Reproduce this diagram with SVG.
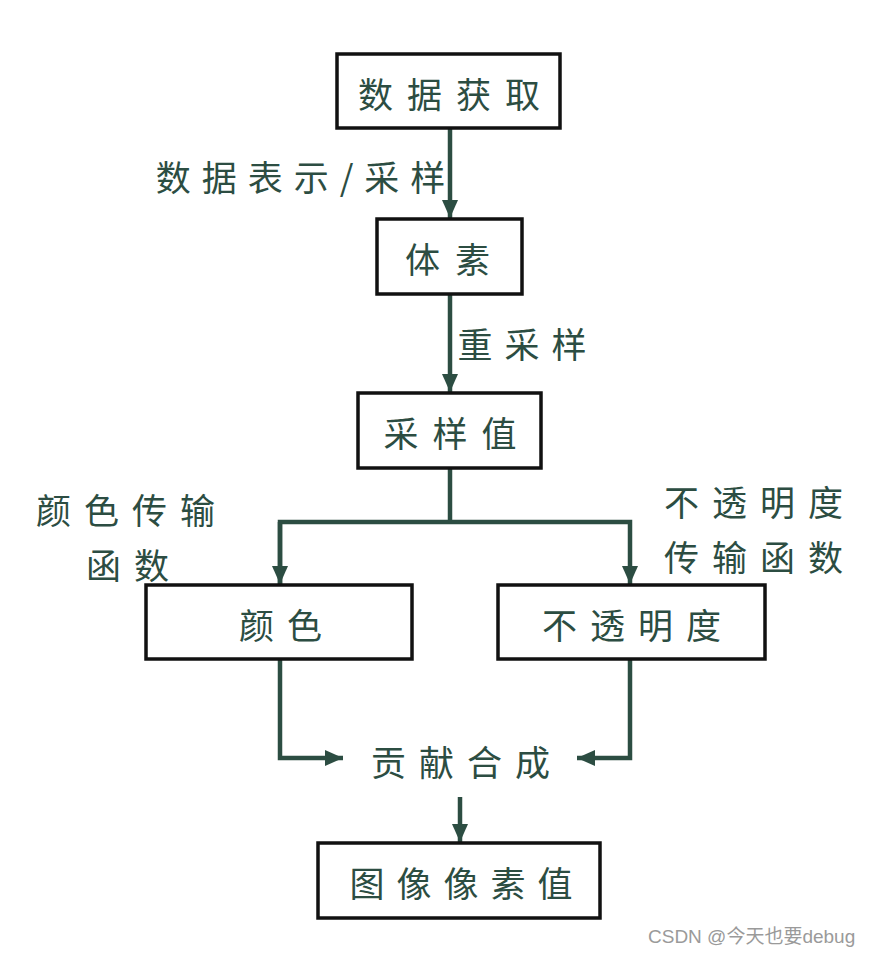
<svg xmlns="http://www.w3.org/2000/svg" width="869" height="956" viewBox="0 0 869 956">
<style>
.box{fill:#fff;stroke:#111;stroke-width:3.5}
.t{font-family:"Noto Sans CJK SC","Noto Sans",sans-serif;font-size:35px;fill:#2c4d42;letter-spacing:13px;text-anchor:middle;dominant-baseline:central}
.c{fill:none;stroke:#2c4d42;stroke-width:4.5}
.wm{font-family:"Liberation Sans","Noto Sans CJK SC",sans-serif;font-size:19px;fill:#9a9a9a}
</style>
<defs>
<marker id="ah" markerUnits="userSpaceOnUse" markerWidth="20" markerHeight="20" viewBox="0 0 20 20" refX="18" refY="10" orient="auto">
<path d="M0,2 L18,10 L0,18 Z" fill="#2c4d42"/>
</marker>
</defs>
<rect width="869" height="956" fill="#fff"/>
<g id="connectors">
<line class="c" x1="450" y1="128" x2="450" y2="218" marker-end="url(#ah)"/>
<line class="c" x1="450" y1="294" x2="450" y2="392" marker-end="url(#ah)"/>
<polyline class="c" points="450,468 450,522"/>
<polyline class="c" points="280,584 280,522 630,522 630,584" marker-end="url(#ah)"/>
<line class="c" x1="280" y1="522" x2="280" y2="584" marker-end="url(#ah)"/>
<polyline class="c" points="280,659 280,758 343,758" marker-end="url(#ah)"/>
<polyline class="c" points="630,659 630,758 577,758" marker-end="url(#ah)"/>
<line class="c" x1="460" y1="797" x2="460" y2="842" marker-end="url(#ah)"/>
</g>
<g id="n1"><rect class="box" x="337" y="54" width="223" height="74"/><text class="t" x="456" y="92" style="letter-spacing:14px">数据获取</text></g>
<g id="n2"><rect class="box" x="377" y="219" width="145" height="75"/><text class="t" x="455" y="257" style="letter-spacing:15px">体素</text></g>
<g id="n3"><rect class="box" x="358" y="393" width="183" height="75"/><text class="t" x="457" y="431" style="letter-spacing:14px">采样值</text></g>
<g id="n4"><rect class="box" x="146" y="585" width="266" height="74"/><text class="t" x="287" y="623">颜色</text></g>
<g id="n5"><rect class="box" x="498" y="585" width="267" height="74"/><text class="t" x="638" y="623">不透明度</text></g>
<g id="n6"><text class="t" x="467" y="760">贡献合成</text></g>
<g id="n7"><rect class="box" x="318" y="843" width="282" height="75"/><text class="t" x="467" y="881" style="letter-spacing:12px">图像像素值</text></g>
<g id="labels">
<text class="t" x="306" y="175" style="letter-spacing:11px">数据表示/采样</text>
<text class="t" x="528" y="342" style="letter-spacing:12px">重采样</text>
<text class="t" x="132" y="508">颜色传输</text>
<text class="t" x="134" y="563">函数</text>
<text class="t" x="760" y="500">不透明度</text>
<text class="t" x="760" y="555">传输函数</text>
</g>
<text class="wm" x="648" y="943">CSDN @今天也要debug</text>
</svg>
